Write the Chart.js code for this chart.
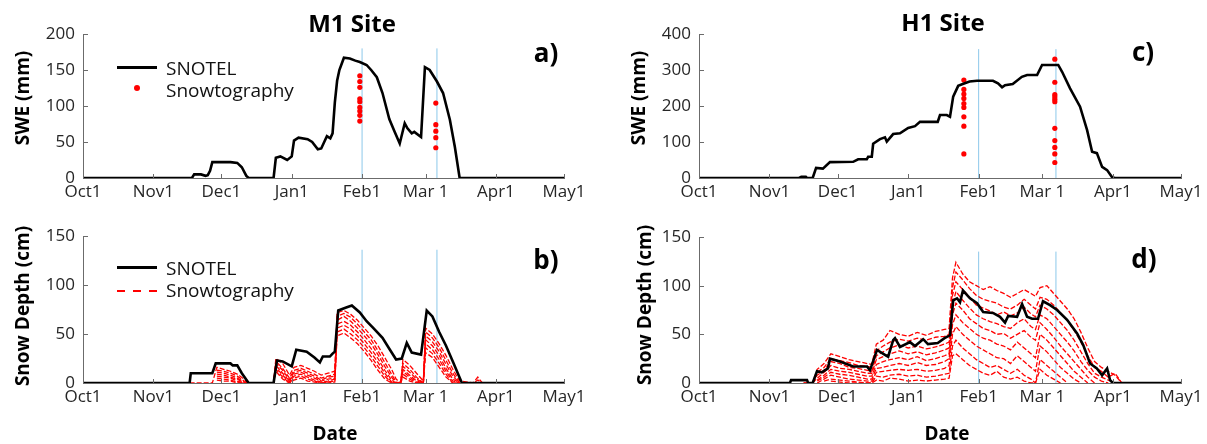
<!DOCTYPE html>
<html>
<head>
<meta charset="utf-8">
<script src="https://cdn.jsdelivr.net/npm/chart.js@4.4.1/dist/chart.umd.min.js"></script>
<style>
  body { margin: 0; background: #fff; font-family: "Open Sans", sans-serif; }
  #wrap { position: relative; width: 1207px; height: 444px; overflow: hidden; background: #fff; }
  canvas { position: absolute; }
  .lbl { position: absolute; transform: translate(-50%, -50%); white-space: nowrap; line-height: 1; color: #000; font-weight: bold; }
  .ytitle { position: absolute; transform: translate(-50%, -50%) rotate(-90deg); font-weight: bold; font-size: 19px; line-height: 1; white-space: nowrap; color: #000; }
  .leg { position: absolute; font-size: 19px; line-height: 1; white-space: nowrap; transform: translateY(-50%); color: #111; }
  .sw { position: absolute; }
</style>
</head>
<body>
<div id="wrap">
  <canvas id="chartA" width="603" height="212" style="left:0;top:0"></canvas>
  <canvas id="chartB" width="603" height="232" style="left:0;top:212px"></canvas>
  <canvas id="chartC" width="604" height="212" style="left:603px;top:0"></canvas>
  <canvas id="chartD" width="604" height="232" style="left:603px;top:212px"></canvas>

  <div class="lbl" style="left:352px;top:23px;font-size:24px">M1 Site</div>
  <div class="lbl" style="left:943px;top:22px;font-size:24px">H1 Site</div>
  <div class="lbl" style="left:546px;top:52px;font-size:26px">a)</div>
  <div class="lbl" style="left:546px;top:259px;font-size:26px">b)</div>
  <div class="lbl" style="left:1143px;top:51px;font-size:26px">c)</div>
  <div class="lbl" style="left:1144px;top:258px;font-size:26px">d)</div>
  <div class="lbl" style="left:335px;top:433px;font-size:19px">Date</div>
  <div class="lbl" style="left:947px;top:433px;font-size:19px">Date</div>

  <div class="ytitle" style="left:22px;top:98px">SWE (mm)</div>
  <div class="ytitle" style="left:22px;top:306px">Snow Depth (cm)</div>
  <div class="ytitle" style="left:638px;top:98px">SWE (mm)</div>
  <div class="ytitle" style="left:644px;top:305px">Snow Depth (cm)</div>

  <div class="sw" style="left:117px;top:66px;width:40px;height:3px;background:#000"></div>
  <div class="leg" style="left:166px;top:68px">SNOTEL</div>
  <div class="sw" style="left:134px;top:85px;width:6px;height:6px;border-radius:50%;background:#f00"></div>
  <div class="leg" style="left:166px;top:90px">Snowtography</div>

  <div class="sw" style="left:117px;top:266px;width:40px;height:3px;background:#000"></div>
  <div class="leg" style="left:166px;top:268px">SNOTEL</div>
  <div class="sw" style="left:117px;top:290px;width:40px;height:2px;background:repeating-linear-gradient(to right,#f00 0 8px,transparent 8px 16px)"></div>
  <div class="leg" style="left:166px;top:290px">Snowtography</div>
</div>
<script>
Chart.defaults.font.family = "'Open Sans', sans-serif";

// days since Oct 1
const tickDays = [0, 31, 61, 92, 123, 151, 182, 212];
const tickLabels = ["Oct1", "Nov1", "Dec1", "Jan1", "Feb1", "Mar 1", "Apr1", "May1"];

// M1 SNOTEL SWE (mm)
const m1SweDays = [0, 48, 49, 52, 54, 55, 56, 57, 60, 65, 68, 70, 72, 73, 84, 85, 87, 90, 92, 93, 95, 99, 101, 103.5, 105, 107.5, 109, 110, 111, 112, 113, 115, 117.6, 120, 122, 125, 127, 129.5, 132, 135, 137.4, 139.6, 141.8, 143, 144.9, 146, 149, 150.7, 152.8, 156, 158.7, 161.7, 163.9, 166, 212];
const m1Swe = [0, 0, 5, 5, 3, 4, 10, 22, 22, 22, 21, 15, 3, 0, 0, 28, 30, 25, 30, 52, 56, 54, 50, 40, 41, 58, 55, 62, 105, 135, 150, 167, 166, 163, 161, 157, 150, 140, 118, 82, 64, 48, 76, 69, 62, 64, 57, 154, 150, 134, 118, 81, 43, 0, 0];
// M1 snowtography SWE samples
const m1DotDays = [122, 155.5];
const m1Dots1 = [142, 134, 126, 110, 106, 98, 93, 87, 79];
const m1Dots2 = [104, 74, 65, 56, 42];
const m1Flights = [123, 156];

// H1 SNOTEL SWE (mm)
const h1SweDays = [0, 44, 45, 47, 47.5, 50, 51.5, 54.5, 57.6, 67.8, 70, 73.8, 74.4, 76, 76.6, 79.6, 81.8, 82.6, 85.4, 88.4, 92, 95, 97.2, 105, 106, 109, 110.4, 111.8, 114, 116, 119, 122.3, 129.3, 131.5, 133.3, 134.6, 138, 142, 144.3, 148.7, 150.9, 158, 159.7, 163.2, 167.6, 170.7, 172.9, 175, 177.3, 179.5, 181.7, 183, 212];
const h1Swe = [0, 0, 3, 3, 0, 0, 28, 26, 44, 45, 52, 52, 59, 59, 95, 108, 113, 101, 122, 124, 139, 144, 156, 156, 175, 175, 170, 226, 256, 261, 268, 270, 270, 263, 252, 258, 261, 281, 286, 286, 314, 314, 295, 249, 198, 133, 73, 69, 31, 22, 2, 0, 0];
const h1DotDays = [116.5, 156.5];
const h1Dots1 = [272, 246, 233, 221, 207, 196, 170, 144, 67];
const h1Dots2 = [330, 266, 232, 226, 219, 212, 138, 104, 85, 67, 43];
const h1Flights = [123, 157];

// M1 snow depth (cm)
const m1SdDays = [0, 47, 47.5, 57, 58.5, 65, 66, 68, 70, 73, 84, 85.5, 88, 92, 94, 98.6, 102, 104.4, 105.7, 108.8, 110, 111, 112.5, 116, 118.5, 122, 125, 128, 132, 135, 138, 140.5, 142.7, 144.9, 149, 151.5, 154, 157, 160, 163, 167, 212];
const m1Sd = [0, 0, 10, 10, 20, 20, 18, 18, 10, 0, 0, 23, 22, 17, 34, 32, 26, 21, 27, 27, 30, 32, 74, 77, 79, 72, 63, 56, 46, 35, 24, 25, 41, 31, 29, 74, 68, 52, 38, 22, 0, 0];
// M1 snowtography stakes
const bDays = [47, 57, 59, 62, 65, 68, 71, 73, 84, 85, 88, 91, 93, 96, 99, 102, 105, 108, 111, 112, 115, 118, 121, 124, 127, 130, 133, 136, 138, 140, 141, 144, 147, 150, 151, 154, 157, 160, 163, 166, 172, 174, 176];
const b1 = [0, 0, 16, 14, 12, 9, 4, 0, 0, 25, 20, 8, 16, 18, 15, 12, 8, 10, 12, 72, 74, 70, 64, 56, 48, 38, 26, 14, 4, 0, 24, 18, 10, 2, 56, 50, 40, 28, 14, 2, 0, 6, 0];
const b2 = [null, null, 13, 12, 10, 7, 2, 0, 0, 22, 15, 5, 13, 15, 12, 9, 5, 7, 9, 68, 71, 67, 60, 52, 44, 33, 21, 9, 1, 0, 20, 14, 6, 0, 52, 46, 36, 23, 10, 0, 0, 3, 0];
const b3 = [null, null, 11, 10, 8, 5, 1, 0, 0, 20, 13, 3, 11, 13, 10, 7, 3, 6, 7, 64, 68, 63, 56, 48, 40, 29, 17, 6, 0, 0, 17, 11, 4, 0, 48, 42, 32, 19, 7, 0, null, null, null];
const b4 = [null, null, 9, 8, 6, 4, 0, 0, 0, 18, 10, 2, 9, 11, 8, 5, 2, 4, 5, 60, 63, 59, 52, 44, 35, 25, 13, 3, 0, 0, 14, 8, 2, 0, 44, 38, 28, 15, 4, 0, null, null, null];
const b5 = [null, null, 7, 6, 5, 2, 0, 0, 0, 16, 8, 1, 7, 9, 6, 3, 1, 2, 4, 56, 59, 55, 48, 40, 31, 21, 10, 1, 0, 0, 12, 6, 1, 0, 40, 34, 24, 12, 2, 0, null, null, null];
const b6 = [null, null, 5, 4, 3, 1, 0, 0, 0, 14, 6, 0, 5, 7, 4, 2, 0, 1, 2, 52, 55, 50, 44, 36, 27, 17, 7, 0, 0, 0, 9, 4, 0, 0, 36, 30, 20, 9, 0, 0, null, null, null];
const b7 = [null, null, 3, 2, 2, 0, 0, 0, 0, 12, 4, 0, 3, 5, 2, 1, 0, 0, 1, 48, 51, 46, 40, 32, 23, 13, 4, 0, 0, 0, 6, 2, 0, 0, 31, 26, 16, 6, 0, 0, null, null, null];

// H1 snow depth (cm)
const h1SdDays = [0, 40, 40.5, 47.5, 48, 50, 51.9, 54, 56.7, 57.6, 62, 65.5, 67.8, 73.9, 75.2, 78.3, 81.8, 83.2, 85.4, 86.2, 88.4, 92.8, 95, 98.6, 100.7, 105, 108, 110.4, 111.8, 113.5, 114.8, 116.1, 119.2, 122.3, 125, 129.3, 132.4, 134.6, 136, 139.9, 142.1, 144.3, 146.5, 149.1, 151.3, 154.4, 157.5, 161.9, 166.3, 169, 172, 175, 177.3, 179.5, 180.8, 182, 212];
const h1Sd = [0, 0, 3, 3, 0, 0, 12, 11, 15, 25, 22, 19, 17, 17, 13, 34, 29, 27, 44, 46, 37, 42, 38, 45, 40, 41, 46, 49, 85, 87, 83, 95, 87, 82, 73, 72, 68, 62, 69, 68, 81, 68, 66, 66, 84, 80, 75, 65, 51, 39, 20, 15, 8, 15, 3, 0, 0];
// H1 snowtography stakes
const dDays = [46, 50, 52, 55, 58, 62, 66, 70, 74, 76, 78, 81, 84, 88, 92, 96, 100, 104, 108, 110, 111.5, 113, 116, 119, 122, 125, 128, 131, 134, 137, 140, 143, 146, 148, 150, 153, 156, 159, 162, 165, 168, 171, 174, 177, 180, 183, 186];
const d1 = [0, 0, 14, 20, 30, 27, 24, 22, 20, 19, 40, 44, 54, 50, 48, 52, 49, 53, 55, 56, 108, 124, 112, 104, 100, 96, 99, 95, 92, 88, 92, 96, 92, 89, 98, 100, 92, 84, 76, 66, 52, 36, 22, 16, 12, 8, 0];
const d2 = [0, 0, 11, 16, 25, 23, 21, 18, 17, 16, 33, 38, 42, 45, 43, 46, 44, 47, 48, 50, 98, 114, 106, 97, 90, 86, 84, 82, 78, 76, 80, 86, 80, 76, 88, 86, 80, 72, 64, 54, 42, 28, 16, 12, 6, 10, 0];
const d3 = [null, 0, 8, 13, 22, 20, 16, 15, 13, 12, 28, 32, 36, 39, 36, 38, 35, 37, 40, 42, 90, 104, 96, 88, 80, 77, 74, 70, 73, 69, 72, 78, 71, 68, 80, 76, 70, 62, 54, 44, 32, 20, 10, 6, 3, 0, null];
const d4 = [null, 0, 5, 11, 18, 15, 14, 12, 10, 10, 24, 27, 30, 33, 30, 32, 29, 31, 34, 36, 80, 94, 85, 77, 70, 66, 63, 61, 58, 56, 62, 66, 58, 55, 70, 66, 58, 50, 42, 33, 22, 13, 6, 2, 0, null, null];
const d5 = [null, null, 3, 8, 14, 12, 11, 9, 7, 7, 19, 22, 24, 26, 24, 27, 23, 25, 28, 30, 70, 82, 75, 66, 61, 56, 54, 50, 51, 46, 50, 54, 47, 44, 62, 55, 47, 38, 30, 22, 14, 6, 0, null, null, null, null];
const d6 = [null, null, 2, 6, 11, 9, 8, 6, 4, 4, 15, 16, 18, 20, 18, 21, 18, 19, 22, 25, 60, 70, 62, 56, 50, 46, 44, 40, 38, 34, 42, 36, 30, 26, 50, 44, 36, 28, 20, 12, 6, 0, null, null, null, null, null];
const d7 = [null, null, 0, 4, 8, 6, 4, 3, 2, 2, 11, 12, 13, 14, 13, 14, 12, 13, 15, 18, 50, 58, 50, 44, 38, 34, 30, 26, 25, 20, 28, 22, 16, 12, 38, 32, 24, 16, 10, 4, 0, null, null, null, null, null, null];
const d8 = [null, null, null, 2, 4, 3, 2, 1, 0, 0, 7, 6, 8, 9, 7, 8, 6, 7, 9, 10, 38, 44, 36, 30, 24, 20, 16, 18, 14, 10, 14, 8, 4, 0, 24, 18, 12, 6, 0, null, null, null, null, null, null, null, null];
const d9 = [null, null, null, null, 2, 1, 0, 0, 0, 0, 3, 2, 5, 4, 2, 3, 2, 3, 4, 5, 28, 30, 24, 18, 14, 10, 8, 12, 6, 4, 6, 2, 0, 0, 14, 8, 4, 0, null, null, null, null, null, null, null, null, null];

const axisColor = "#6b6b6b";
const tickFont = { size: 17 };

function pts(days, vals) {
  return days.map((d, i) => ({ x: d, y: vals[i] }));
}

// small tick marks pointing into the plot, like the original figure
const inwardTicks = {
  id: "inwardTicks",
  afterDatasetsDraw(chart) {
    const { ctx, chartArea, scales } = chart;
    ctx.save();
    ctx.strokeStyle = axisColor;
    ctx.lineWidth = 1;
    ctx.beginPath();
    scales.x.ticks.forEach((t) => {
      const px = Math.round(scales.x.getPixelForValue(t.value)) + 0.5;
      ctx.moveTo(px, chartArea.bottom);
      ctx.lineTo(px, chartArea.bottom - 4);
    });
    scales.y.ticks.forEach((t) => {
      const py = Math.round(scales.y.getPixelForValue(t.value)) + 0.5;
      ctx.moveTo(chartArea.left, py);
      ctx.lineTo(chartArea.left + 5, py);
    });
    ctx.stroke();
    ctx.restore();
  },
};

function makePanel(id, p) {
  const datasets = [
    { data: pts(p.days, p.snotel), borderColor: "#000", borderWidth: 2.6, pointRadius: 0 },
  ];
  (p.stakes || []).forEach((s) => {
    datasets.push({ data: pts(p.stakeDays, s), borderColor: "#ff0000", borderWidth: 1.3, borderDash: [5, 2], pointRadius: 0 });
  });
  (p.dots || []).forEach((col, k) => {
    datasets.push({
      data: col.map((v) => ({ x: p.dotDays[k], y: v })),
      showLine: false, pointRadius: 2.6, pointBackgroundColor: "#f00", pointBorderWidth: 0,
    });
  });
  p.flights.forEach((d) => {
    datasets.push({ data: [{ x: d, y: 0 }, { x: d, y: p.flightTop }], borderColor: "#8cc8ea", borderWidth: 1, pointRadius: 0 });
  });

  new Chart(document.getElementById(id), {
    type: "line",
    data: { datasets },
    plugins: [inwardTicks],
    options: {
      responsive: false,
      animation: false,
      layout: { padding: { left: 0, right: p.padRight, top: p.padTop, bottom: 0 } },
      plugins: { legend: { display: false }, tooltip: { enabled: false } },
      scales: {
        x: {
          type: "linear", min: 0, max: 212,
          afterBuildTicks: (s) => { s.ticks = tickDays.map((v) => ({ value: v })); },
          afterFit: (s) => { s.height = p.xHeight; },
          ticks: { callback: (v, i) => tickLabels[i], font: tickFont, color: "#262626", padding: 4, autoSkip: false, maxRotation: 0 },
          grid: { display: false, drawTicks: false },
          border: { display: true, color: axisColor, width: 1 },
        },
        y: {
          min: 0, max: p.yMax,
          afterFit: (s) => { s.width = p.yWidth; },
          ticks: { stepSize: p.yStep, font: tickFont, color: "#262626", padding: 8 },
          grid: { display: false, drawTicks: false },
          border: { display: true, color: axisColor, width: 1 },
        },
      },
    },
  });
}

makePanel("chartA", {
  days: m1SweDays, snotel: m1Swe, dots: [m1Dots1, m1Dots2], dotDays: m1DotDays,
  flights: m1Flights, flightTop: 180, yMax: 200, yStep: 50,
  yWidth: 83, padRight: 39, padTop: 34, xHeight: 34,
});
makePanel("chartB", {
  days: m1SdDays, snotel: m1Sd, stakeDays: bDays, stakes: [b1, b2, b3, b4, b5, b6, b7],
  flights: m1Flights, flightTop: 136, yMax: 150, yStep: 50,
  yWidth: 83, padRight: 39, padTop: 24, xHeight: 61,
});
makePanel("chartC", {
  days: h1SweDays, snotel: h1Swe, dots: [h1Dots1, h1Dots2], dotDays: h1DotDays,
  flights: h1Flights, flightTop: 358, yMax: 400, yStep: 100,
  yWidth: 96, padRight: 26, padTop: 34, xHeight: 34,
});
makePanel("chartD", {
  days: h1SdDays, snotel: h1Sd, stakeDays: dDays, stakes: [d1, d2, d3, d4, d5, d6, d7, d8, d9],
  flights: h1Flights, flightTop: 135, yMax: 150, yStep: 50,
  yWidth: 96, padRight: 26, padTop: 25, xHeight: 61,
});
</script>
</body>
</html>
